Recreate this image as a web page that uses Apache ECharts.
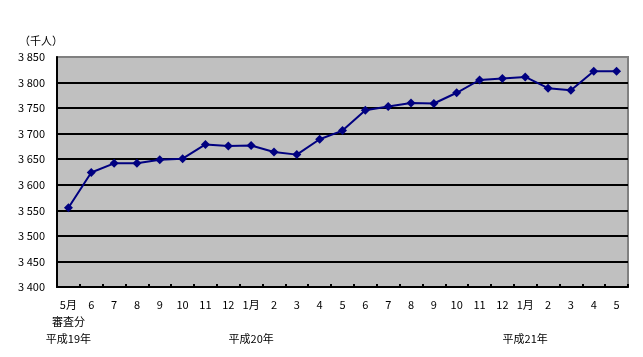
<!DOCTYPE html>
<html><head><meta charset="utf-8">
<script src="https://cdn.jsdelivr.net/npm/echarts@6/dist/echarts.min.js"></script>
<style>html,body{margin:0;padding:0;background:#fff}#c{width:643px;height:357px}</style>
</head><body><div id="c"></div>
<script>
const monthLabels = ['5月','6','7','8','9','10','11','12','1月','2','3','4','5','6','7','8','9','10','11','12','1月','2','3','4','5'];
const subLabels = {0: '審査分'};
const yearLabels = {0: '平成19年', 8: '平成20年', 20: '平成21年'};
const values = [3555,3624,3642,3642,3649,3651,3679,3676,3677,3664,3659,3689,3706,3746,3753,3760,3759,3780,3805,3808,3811,3789,3785,3822,3822];
const yTicks = [3400,3450,3500,3550,3600,3650,3700,3750,3800,3850];
const unitLabel = '（千人）';

const categories = monthLabels.map((m, i) => m + '\n' + (subLabels[i] || '') + '\n' + (yearLabels[i] || ''));
const font = '"Noto Sans CJK JP", sans-serif';
const chart = echarts.init(document.getElementById('c'), null, {renderer: 'canvas'});
chart.setOption({
  animation: false,
  backgroundColor: '#fff',
  title: {text: unitLabel, left: 14, top: 30, textStyle: {fontSize: 11, fontWeight: 'normal', color: '#000', fontFamily: font}},
  grid: {left: 57, right: 15, top: 57, bottom: 70, show: true, backgroundColor: '#c0c0c0', borderColor: '#808080', borderWidth: 2},
  xAxis: {
    type: 'category', data: categories, boundaryGap: true,
    axisLine: {lineStyle: {color: '#000', width: 2}},
    axisTick: {show: true, inside: true, length: 3, lineStyle: {color: '#000', width: 2}},
    axisLabel: {interval: 0, margin: 9, fontSize: 11, lineHeight: 17, color: '#000', fontFamily: font}
  },
  yAxis: {
    type: 'value', min: yTicks[0], max: yTicks[yTicks.length - 1], interval: yTicks[1] - yTicks[0],
    axisLine: {show: true, lineStyle: {color: '#000', width: 2}},
    axisTick: {show: false},
    splitLine: {show: true, lineStyle: {color: ['#000','#000','#000','#000','#000','#000','#000','#000','#000','#808080'], width: 2}},
    axisLabel: {margin: 12, fontSize: 11, color: '#000', fontFamily: font,
      formatter: v => String(v).replace(/^(\d)(\d{3})$/, '$1 $2')}
  },
  series: [{
    type: 'line', data: values, symbol: 'diamond', symbolSize: 9,
    lineStyle: {color: '#000080', width: 2},
    itemStyle: {color: '#000080'}
  }]
});
</script></body></html>
